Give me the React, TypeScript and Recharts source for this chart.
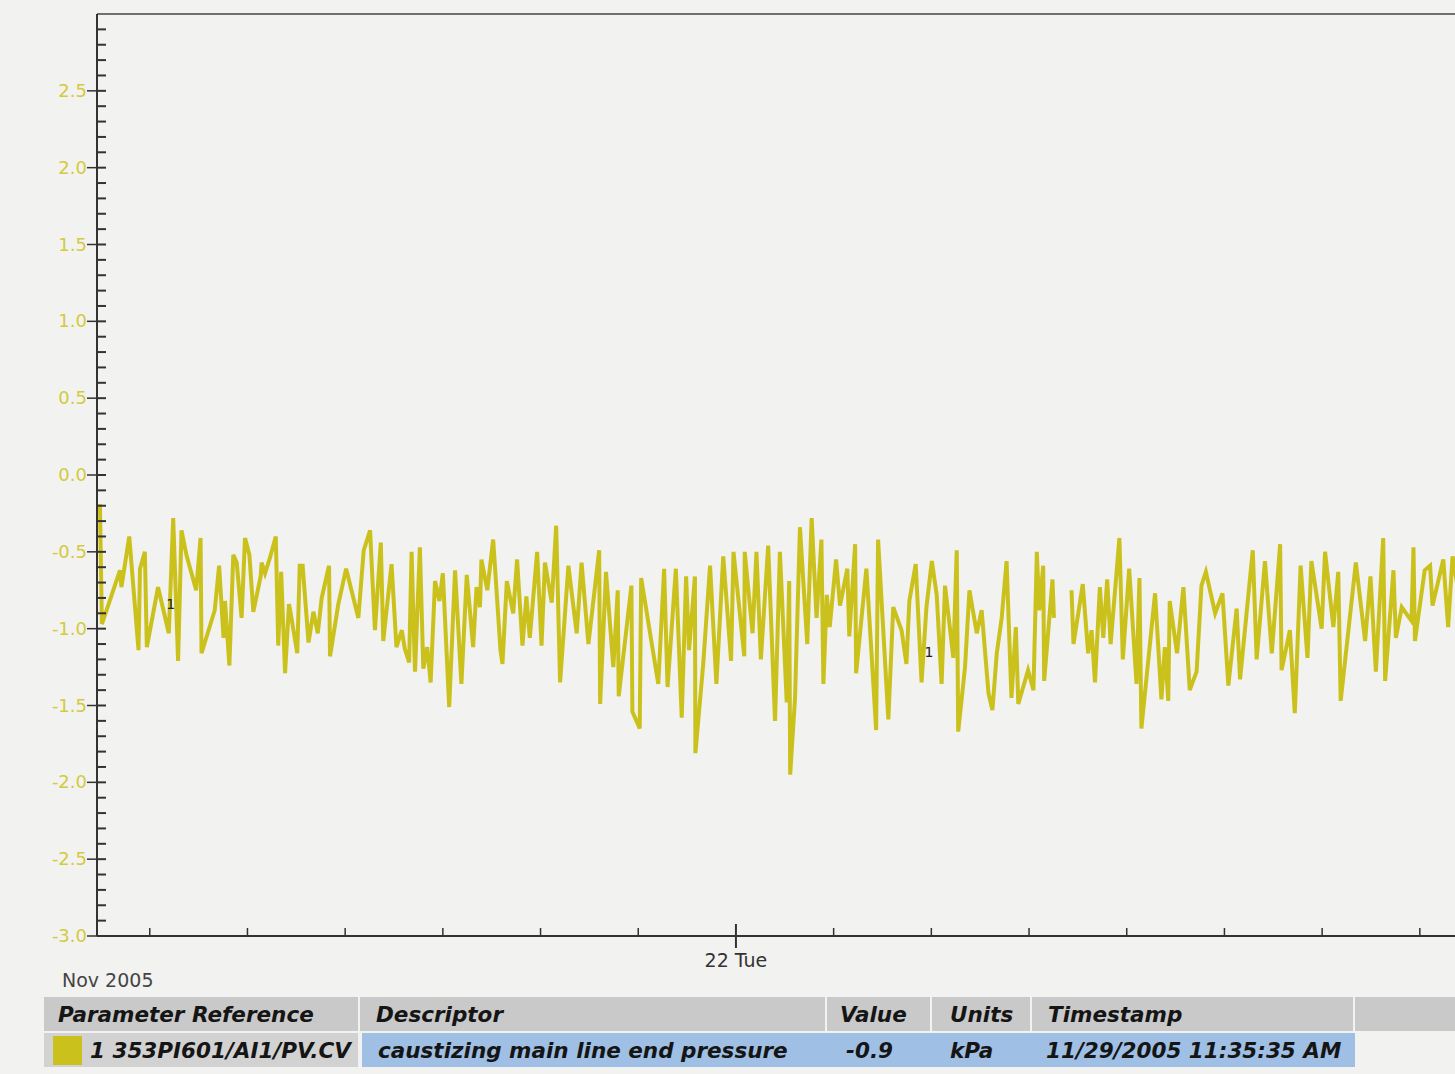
import React from 'react';
import { LineChart, Line, XAxis, YAxis, ReferenceLine, ReferenceDot } from 'recharts';

// time in hours since Nov 21 2005 00:00 (24 = "22 Tue")
const times: number[] = [
  10.98, 11.02, 11.39, 11.42, 11.58, 11.77, 11.8, 11.9, 11.94, 12.17,
  12.39, 12.48, 12.58, 12.65, 12.75, 12.95, 13.04, 13.06, 13.33, 13.42,
  13.51, 13.54, 13.63, 13.71, 13.78, 13.88, 13.95, 14.04, 14.12, 14.27,
  14.29, 14.36, 14.46, 14.58, 14.63, 14.69, 14.77, 14.85, 14.9, 15.02,
  15.07, 15.13, 15.25, 15.35, 15.44, 15.52, 15.67, 15.69, 15.86, 16.02,
  16.27, 16.38, 16.51, 16.61, 16.73, 16.78, 16.95, 17.05, 17.16, 17.22,
  17.31, 17.36, 17.43, 17.53, 17.6, 17.68, 17.75, 17.84, 17.93, 18.0,
  18.13, 18.25, 18.38, 18.49, 18.62, 18.69, 18.76, 18.79, 18.91, 19.03,
  19.18, 19.22, 19.31, 19.44, 19.52, 19.63, 19.71, 19.78, 19.93, 20.02,
  20.09, 20.23, 20.32, 20.4, 20.57, 20.74, 20.84, 20.98, 21.2, 21.22,
  21.34, 21.49, 21.58, 21.6, 21.86, 21.88, 22.03, 22.06, 22.41,
  22.53, 22.6, 22.77, 22.89, 22.98, 23.04, 23.16, 23.17, 23.33, 23.47,
  23.6, 23.74, 23.9, 23.95, 24.17, 24.18, 24.34, 24.42, 24.51, 24.66,
  24.8, 24.9, 25.04, 25.09, 25.11, 25.21, 25.31, 25.46, 25.55, 25.65,
  25.75, 25.79, 25.86, 25.92, 26.05, 26.13, 26.28, 26.32, 26.44, 26.46,
  26.67, 26.87, 26.91, 27.12, 27.22, 27.39, 27.49, 27.55, 27.68, 27.8,
  27.9, 28.01, 28.11, 28.21, 28.28, 28.45, 28.52, 28.55, 28.69, 28.78,
  28.93, 29.03, 29.17, 29.25, 29.34, 29.44, 29.54, 29.64, 29.73, 29.78,
  29.98, 30.09, 30.16, 30.21, 30.29, 30.31, 30.48, 30.51, 30.69, 30.87,
  30.91, 31.1, 31.21, 31.28, 31.35, 31.45, 31.52, 31.6, 31.67, 31.85,
  31.92, 32.05, 32.2, 32.26, 32.3, 32.58, 32.71, 32.78, 32.85, 32.88,
  33.03, 33.16, 33.29, 33.43, 33.53, 33.62, 33.81, 33.96, 34.08, 34.25,
  34.32, 34.58, 34.66, 34.83, 34.97, 35.14, 35.17, 35.34, 35.44, 35.56,
  35.7, 35.78, 35.99, 36.06, 36.23, 36.33, 36.38, 36.69, 36.88, 36.99,
  37.1, 37.25, 37.29, 37.46, 37.51, 37.63, 37.83, 37.87, 37.9, 38.1,
  38.21, 38.26, 38.48, 38.58, 38.67, 38.8,
];

// pressure, kPa (null = gap in the trace)
const pressure: (number | null)[] = [
  -0.19, -0.97, -0.62, -0.73, -0.4, -1.14, -0.61, -0.5, -1.12, -0.73,
  -1.03, -0.28, -1.21, -0.36, -0.52, -0.75, -0.41, -1.16, -0.88, -0.59,
  -1.06, -0.82, -1.24, -0.52, -0.57, -0.93, -0.41, -0.52, -0.89, -0.66,
  -0.57, -0.64, -0.54, -0.4, -1.11, -0.63, -1.29, -0.84, -0.93, -1.16,
  -0.59, -0.59, -1.09, -0.89, -1.03, -0.8, -0.59, -1.18, -0.84, -0.61,
  -0.93, -0.49, -0.36, -1.01, -0.44, -1.08, -0.58, -1.12, -1.01, -1.13,
  -1.22, -0.5, -1.28, -0.47, -1.26, -1.12, -1.35, -0.69, -0.82, -0.64,
  -1.51, -0.62, -1.36, -0.65, -1.12, -0.73, -0.86, -0.55, -0.75, -0.42,
  -1.14, -1.23, -0.69, -0.9, -0.55, -1.11, -0.79, -1.06, -0.5, -1.11,
  -0.57, -0.83, -0.33, -1.35, -0.59, -1.03, -0.57, -1.1, -0.49, -1.49,
  -0.63, -1.25, -0.75, -1.44, -0.72, -1.54, -1.65, -0.67, -1.36,
  -0.61, -1.38, -0.61, -1.58, -0.66, -1.14, -0.66, -1.81, -1.23, -0.59,
  -1.36, -0.53, -1.21, -0.5, -1.18, -0.5, -1.03, -0.5, -1.2, -0.46,
  -1.6, -0.5, -1.48, -0.69, -1.95, -1.45, -0.34, -1.1, -0.28, -0.93,
  -0.42, -1.36, -0.78, -0.99, -0.55, -0.85, -0.61, -1.05, -0.45, -1.29,
  -0.61, -1.66, -0.42, -1.59, -0.86, -1.01, -1.23, -0.82, -0.58, -1.35,
  -0.86, -0.56, -0.78, -1.36, -0.72, -1.19, -0.49, -1.67, -1.25, -0.75,
  -1.03, -0.88, -1.42, -1.53, -1.16, -0.93, -0.56, -1.45, -0.99, -1.49,
  -1.27, -1.4, -0.5, -0.88, -0.59, -1.34, -0.68, -0.93, null, -0.75,
  -1.1, -0.71, -1.16, -1.01, -1.35, -0.73, -1.06, -0.68, -1.1, -0.41,
  -1.2, -0.61, -1.36, -0.67, -1.65, -0.77, -1.46, -1.12, -1.47, -0.82,
  -1.16, -0.73, -1.4, -1.28, -0.72, -0.63, -0.9, -0.77, -1.37, -0.87,
  -1.33, -0.49, -1.2, -0.56, -1.16, -0.45, -1.27, -1.01, -1.55, -0.59,
  -1.19, -0.56, -1.0, -0.5, -0.99, -0.63, -1.47, -0.57, -1.08, -0.66,
  -1.28, -0.41, -1.34, -0.62, -1.06, -0.86, -0.95, -0.47, -1.08, -0.62,
  -0.59, -0.85, -0.55, -0.99, -0.53, -0.78,
];

const markerTimes = [12.43, 27.95];
const markerValues = [-0.84, -1.15];
const markerText = '1';

const xTicks = [12, 14, 16, 18, 20, 22, 24, 26, 28, 30, 32, 34, 36, 38];
const dayTick = 24;
const dayTickLabel = '22 Tue';
const monthLabel = 'Nov 2005';
const yLabelTicks = [-3.0, -2.5, -2.0, -1.5, -1.0, -0.5, 0.0, 0.5, 1.0, 1.5, 2.0, 2.5];

const tableHeaders = ['Parameter Reference', 'Descriptor', 'Value', 'Units', 'Timestamp'];
const tableRow = ['1 353PI601/AI1/PV.CV', 'caustizing main line end pressure', '-0.9', 'kPa', '11/29/2005 11:35:35 AM'];

const LINE_COLOR = '#cbc11c';
const AXIS_COLOR = '#333333';
const LABEL_COLOR = '#d3ca3e';

const data = times.map((t, i) => ({ t, v: pressure[i] }));

const yTickValues: number[] = [];
for (let i = -30; i <= 29; i++) yTickValues.push(i / 10);

const YTick = (props: any) => {
  const { x, y, payload } = props;
  const v = payload.value as number;
  const isMajor = yLabelTicks.some((m) => Math.abs(m - v) < 1e-6);
  return (
    <g>
      <line x1={x} x2={x + 9} y1={y} y2={y} stroke={AXIS_COLOR} strokeWidth={2} />
      {isMajor && <line x1={x - 10} x2={x} y1={y} y2={y} stroke={AXIS_COLOR} strokeWidth={1.5} />}
      {isMajor && (
        <text x={x - 10} y={y} dy={6} textAnchor="end" fill={LABEL_COLOR}
          style={{ fontFamily: 'DejaVu Sans', fontSize: 18 }}>
          {v.toFixed(1)}
        </text>
      )}
    </g>
  );
};

const XTick = (props: any) => {
  const { x, y, payload } = props;
  const v = payload.value as number;
  const isDay = v === dayTick;
  return (
    <g>
      {isDay ? (
        <line x1={x} x2={x} y1={y - 12} y2={y + 12} stroke={AXIS_COLOR} strokeWidth={2} />
      ) : (
        <line x1={x} x2={x} y1={y - 8} y2={y} stroke={AXIS_COLOR} strokeWidth={1.5} />
      )}
      {isDay && (
        <text x={x} y={y + 31} textAnchor="middle" fill="#333"
          style={{ fontFamily: 'DejaVu Sans', fontSize: 19 }}>
          {dayTickLabel}
        </text>
      )}
    </g>
  );
};

const cellText: React.CSSProperties = {
  position: 'absolute',
  fontFamily: 'DejaVu Sans',
  fontWeight: 'bold',
  fontStyle: 'italic',
  fontSize: 21.5,
  color: '#151515',
  whiteSpace: 'nowrap',
  lineHeight: '1',
};

export default function App() {
  const headerCols = [
    { left: 44, right: 358, text: 58 },
    { left: 360, right: 825, text: 376 },
    { left: 827, right: 930, text: 840 },
    { left: 932, right: 1030, text: 950 },
    { left: 1032, right: 1353, text: 1048 },
    { left: 1355, right: 1455, text: 0 },
  ];
  const rowTextLefts = [90, 378, 846, 950, 1046];
  return (
    <div style={{ position: 'absolute', left: 0, top: 0, width: 1455, height: 1074, overflow: 'hidden', background: '#f2f2f1' }}>
      <div style={{ position: 'absolute', left: 0, top: 0 }}>
        <LineChart width={1455} height={1000} data={data} margin={{ top: 14, right: 0, left: 0, bottom: 0 }}>
          <XAxis
            dataKey="t"
            type="number"
            domain={[10.92, 38.72]}
            allowDataOverflow
            ticks={xTicks}
            interval={0}
            height={64}
            tickSize={0}
            tickMargin={0}
            tickLine={false}
            axisLine={{ stroke: AXIS_COLOR, strokeWidth: 2 }}
            tick={<XTick />}
          />
          <YAxis
            type="number"
            domain={[-3, 3]}
            allowDataOverflow
            ticks={yTickValues}
            interval={0}
            width={97}
            tickSize={0}
            tickMargin={0}
            tickLine={false}
            axisLine={{ stroke: AXIS_COLOR, strokeWidth: 2 }}
            tick={<YTick />}
          />
          <ReferenceLine y={3} stroke="#444" strokeWidth={1.5} />
          <Line
            type="linear"
            dataKey="v"
            stroke={LINE_COLOR}
            strokeWidth={4}
            dot={false}
            strokeLinejoin="miter"
            isAnimationActive={false}
          />
          {markerTimes.map((t, i) => (
            <ReferenceDot key={i} x={t} y={markerValues[i]} r={0} fill="none" stroke="none"
              label={{ value: markerText, position: 'center', fill: '#222', fontSize: 14, fontFamily: 'DejaVu Sans' }} />
          ))}
        </LineChart>
      </div>
      <div style={{ ...cellText, fontWeight: 'normal', fontStyle: 'normal', fontSize: 19, color: '#444', left: 62, top: 971 }}>
        {monthLabel}
      </div>
      {headerCols.map((c, i) => (
        <div key={'h' + i} style={{ position: 'absolute', left: c.left, top: 997, width: c.right - c.left, height: 34, background: '#c9c9c9' }} />
      ))}
      {tableHeaders.map((h, i) => (
        <div key={'ht' + i} style={{ ...cellText, left: headerCols[i].text, top: 1004 }}>{h}</div>
      ))}
      <div style={{ position: 'absolute', left: 44, top: 1033, width: 314, height: 34, background: '#d2d2d2' }} />
      <div style={{ position: 'absolute', left: 53, top: 1036, width: 29, height: 29, background: LINE_COLOR }} />
      <div style={{ position: 'absolute', left: 362, top: 1033, width: 993, height: 34, background: '#9fc0e4' }} />
      {tableRow.map((t, i) => (
        <div key={'rt' + i} style={{ ...cellText, left: rowTextLefts[i], top: 1040 }}>{t}</div>
      ))}
    </div>
  );
}
